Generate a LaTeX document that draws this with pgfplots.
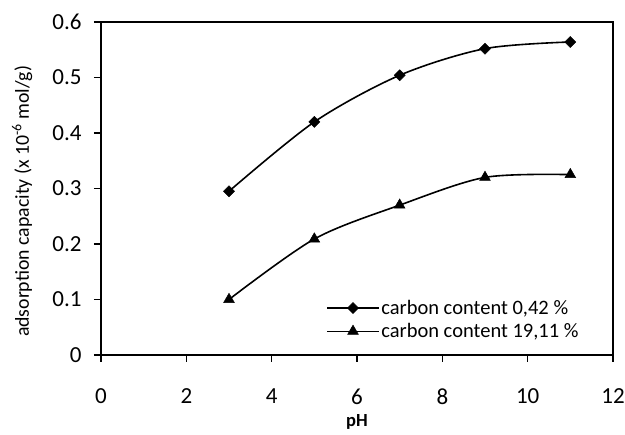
\documentclass[border=0pt]{standalone}
\usepackage{fontspec}
\setmainfont{Carlito}
\usepackage{pgfplots}
\pgfplotsset{compat=1.18}
\begin{document}
\begin{tikzpicture}[x=1pt,y=1pt]
\begin{axis}[
  at={(0,0)}, anchor=south west,
  scale only axis, width=512pt, height=333pt,
  xmin=0, xmax=12, ymin=0, ymax=0.6,
  xtick={0,2,...,12}, ytick={0,0.1,...,0.6},
  /pgf/number format/assume math mode=true,
  tick label style={font=\fontsize{23}{26}\selectfont},
  tick pos=left, tick align=outside,
  major tick length=7pt,
  every tick/.style={black, line width=1.6pt},
  axis line style={line width=1.1pt},
  xlabel={\textbf{pH}},
  xlabel style={font=\fontsize{18.5}{22}\selectfont, at={(axis description cs:0.5,-0.2)}, anchor=center},
  ylabel={adsorption capacity (x 10\textsuperscript{-6} mol/g)},
  ylabel style={font=\fontsize{19.8}{22}\selectfont, at={(axis description cs:-0.154,0.461)}, anchor=center, rotate=0},
  y tick label style={xshift=-9pt},
  x tick label style={yshift=-23pt},
  legend style={at={(axis description cs:0.4395,0.106)}, anchor=west, draw=none, fill=none,
    font=\fontsize{20.5}{24}\selectfont, inner sep=0pt, row sep=4.5pt,
    nodes={inner sep=1.5pt}},
  legend cell align=left,
  legend image code/.code={\draw[#1, mark repeat=2, mark phase=2] plot coordinates {(0pt,0pt) (26pt,0pt) (52pt,0pt)};},
]
\addplot[black, line width=1.6pt, smooth, tension=0.5, mark=square*, mark size=3.9pt, mark options={rotate=45, solid, line width=0.5pt}]
  coordinates {(3,0.295) (5,0.42) (7,0.504) (9,0.552) (11,0.564)};
\addlegendentry{carbon content 0,42 \%}
\addplot[black, line width=1.6pt, smooth, tension=0.5, mark=triangle*, mark size=6.2pt, mark options={solid, line width=0.5pt}]
  coordinates {(3,0.1) (5,0.209) (7,0.27) (9,0.32) (11,0.325)};
\addlegendentry{carbon content 19,11 \%}
\draw[line width=2.4pt] (rel axis cs:0,1) -- (rel axis cs:0,0) -- (rel axis cs:1,0);
\end{axis}
\pgfresetboundingbox
\useasboundingbox (-101,-80) rectangle (524,355);
\end{tikzpicture}
\end{document}
